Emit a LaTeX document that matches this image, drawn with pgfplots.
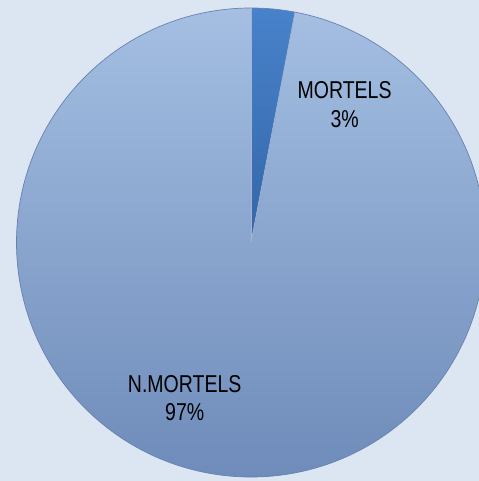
\documentclass[border=0pt]{standalone}
\usepackage{pgfplots}
\pgfplotsset{compat=1.18}
\usepackage{pgfplotstable}
\usepackage{fontspec}
\setmainfont{Liberation Sans}
\newfontfamily\labfont[FakeStretch=0.8]{Liberation Sans}

\definecolor{bg}{RGB}{220,230,242}
\definecolor{lightT}{RGB}{164,191,226}
\definecolor{lightB}{RGB}{108,137,184}
\definecolor{darkT}{RGB}{72,130,202}
\definecolor{darkB}{RGB}{52,102,168}
\definecolor{rim}{RGB}{104,130,176}

\pgfplotstableread{
label value
MORTELS 3
N.MORTELS 97
}\piedata

\begin{document}
\begin{tikzpicture}
\pgfplotstablegetelem{0}{value}\of\piedata \let\va\pgfplotsretval
\pgfmathsetmacro\aA{90-3.6*\va}
\def\R{117.25mm}
\begin{axis}[
    x=0.5mm, y=0.5mm,
    xmin=0, xmax=479, ymin=0, ymax=481,
    hide axis,
]
\fill[bg] (axis cs:0,0) rectangle (axis cs:479,481);
% N.MORTELS slice
\shade[top color=lightT, bottom color=lightB]
    (axis cs:251,238.5) -- ++(\aA:\R) arc[start angle=\aA, end angle=-270, radius=\R] -- cycle;
% MORTELS slice
\shade[top color=darkT, bottom color=darkB]
    (axis cs:251,238.5) -- ++(90:\R) arc[start angle=90, end angle=\aA, radius=\R] -- cycle;
\draw[rim, line width=0.35mm] (axis cs:251,238.5) circle[radius=\R];
\draw[rim!60, line width=0.3mm] (axis cs:251,238.5) -- ++(90:\R);
\draw[rim!60, line width=0.3mm] (axis cs:251,238.5) -- ++(\aA:\R);
\node[font=\labfont\fontsize{34.7}{40.5}\selectfont, align=center, inner sep=0pt] at (axis cs:344.6,376.6) {MORTELS\\3\%};
\node[font=\labfont\fontsize{34.7}{40.5}\selectfont, align=center, inner sep=0pt] at (axis cs:184.7,83) {N.MORTELS\\97\%};
\end{axis}
\pgfresetboundingbox
\path (current axis.south west) rectangle (current axis.north east);
\end{tikzpicture}
\end{document}
